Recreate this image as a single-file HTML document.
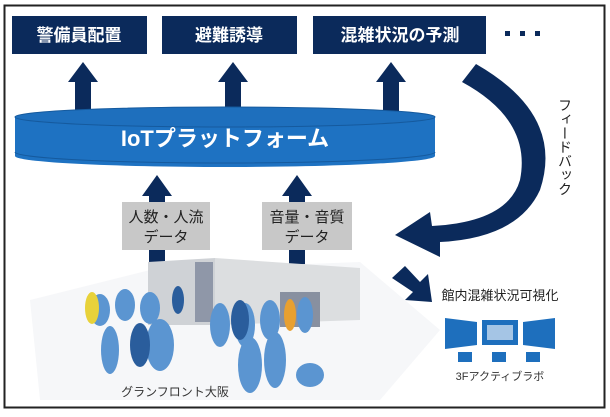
<!DOCTYPE html>
<html><head><meta charset="utf-8"><style>
body{margin:0;background:#fff}
text{font-family:"Liberation Sans","Noto Sans CJK JP",sans-serif}
</style></head><body>
<svg width="610" height="412" viewBox="0 0 610 412" xmlns="http://www.w3.org/2000/svg">
<rect x="4.5" y="5.5" width="600" height="402" fill="#fff" stroke="#222" stroke-width="2"/>
<g fill="#0b2a5b">
<rect x="12" y="16" width="135" height="38"/>
<rect x="162" y="16" width="135" height="38"/>
<rect x="313" y="16" width="173" height="38"/>
<rect x="505" y="31" width="5" height="5"/><rect x="520" y="31" width="5" height="5"/><rect x="535" y="31" width="5" height="5"/>
</g>
<g fill="#fff" font-size="17" font-weight="bold" text-anchor="middle">
<text x="79" y="41">警備員配置</text>
<text x="229" y="41">避難誘導</text>
<text x="400" y="41">混雑状況の予測</text>
</g>
<g fill="#0b2a5b">
<path d="M68,82 L83,62 L98,82 L91,82 L91,112 L75,112 L75,82Z"/>
<path d="M218,82 L233,62 L248,82 L241,82 L241,112 L225,112 L225,82Z"/>
<path d="M376,82 L391,62 L406,82 L399,82 L399,112 L383,112 L383,82Z"/>
<path d="M142,196 L157,175 L172,196 L165,196 L165,205 L149,205 L149,196Z"/>
<path d="M282,196 L297,175 L312,196 L305,196 L305,205 L289,205 L289,196Z"/>
<rect x="149" y="248" width="16" height="20"/>
<rect x="289" y="248" width="16" height="28"/>
</g>
<path d="M15,117 L15,156 A210,11 0 0 0 435,156 L435,117Z" fill="#1e72c2"/>
<ellipse cx="225" cy="117" rx="210" ry="10" fill="#1e6fbd" stroke="#155a9e"/>
<path d="M15,152 A210,11 0 0 0 435,152" fill="none" stroke="#155a9e"/>
<text x="225" y="146" fill="#fff" font-size="22" text-anchor="middle" font-weight="bold">IoTプラットフォーム</text>
<rect x="122" y="202" width="88" height="48" fill="#c8c8c8"/>
<rect x="262" y="202" width="90" height="48" fill="#c8c8c8"/>
<g font-size="15" fill="#222" text-anchor="middle">
<text x="166" y="222">人数・人流</text><text x="166" y="242">データ</text>
<text x="307" y="222">音量・音質</text><text x="307" y="242">データ</text>
</g>
<path d="M476,64 Q565,115 540,190 Q518,238 440,242 L440,257 L395,235 L430,212 L432,226 Q508,222 520,180 Q532,120 462,82 Z" fill="#0b2a5b"/>
<path d="M392,278 L405,266 L420,282 L428,274 L432,302 L405,300 L413,292Z" fill="#0b2a5b"/>
<text font-size="14" fill="#222" writing-mode="tb" x="565" y="98">フィードバック</text>
<path d="M30,300 L150,270 L360,262 L440,330 L380,400 L40,400Z" fill="#f6f7f9"/>
<path d="M148,262 L215,258 L215,325 L148,325Z" fill="#cfd2d6"/>
<path d="M215,258 L360,268 L360,320 L215,325Z" fill="#dcdee0"/>
<rect x="195" y="262" width="18" height="60" fill="#8f97a8"/>
<rect x="280" y="292" width="40" height="35" fill="#8890a0"/>
<g fill="#5b95d1">
<ellipse cx="100" cy="310" rx="10" ry="16"/><ellipse cx="125" cy="305" rx="10" ry="16"/><ellipse cx="150" cy="308" rx="10" ry="16"/>
<ellipse cx="110" cy="350" rx="9" ry="24"/><ellipse cx="160" cy="345" rx="14" ry="26"/><ellipse cx="220" cy="325" rx="10" ry="22"/>
<ellipse cx="245" cy="325" rx="10" ry="22"/><ellipse cx="270" cy="320" rx="10" ry="20"/><ellipse cx="250" cy="365" rx="12" ry="28"/>
<ellipse cx="275" cy="360" rx="11" ry="28"/><ellipse cx="310" cy="375" rx="14" ry="12"/><ellipse cx="305" cy="315" rx="8" ry="18"/>
</g>
<g fill="#2a5d9c"><ellipse cx="140" cy="345" rx="10" ry="22"/><ellipse cx="240" cy="320" rx="9" ry="20"/><ellipse cx="178" cy="300" rx="6" ry="14"/></g>
<ellipse cx="92" cy="308" rx="7" ry="16" fill="#e8d23a"/><ellipse cx="290" cy="315" rx="6" ry="16" fill="#e8a030"/>
<text x="175" y="396" font-size="12" fill="#333" text-anchor="middle">グランフロント大阪</text>
<text x="500" y="300" font-size="13" fill="#222" text-anchor="middle">館内混雑状況可視化</text>
<g fill="#1e6fbd">
<path d="M445,318 L477,322 L477,345 L445,349Z"/>
<rect x="482" y="320" width="36" height="25"/>
<path d="M523,322 L555,318 L555,349 L523,345Z"/>
<rect x="458" y="352" width="14" height="10"/><rect x="492" y="352" width="14" height="10"/><rect x="526" y="352" width="14" height="10"/>
</g>
<rect x="487" y="325" width="26" height="15" fill="#fff" opacity=".6"/>
<text x="500" y="380" font-size="11" fill="#333" text-anchor="middle">3Fアクティブラボ</text>
</svg>
</body></html>
